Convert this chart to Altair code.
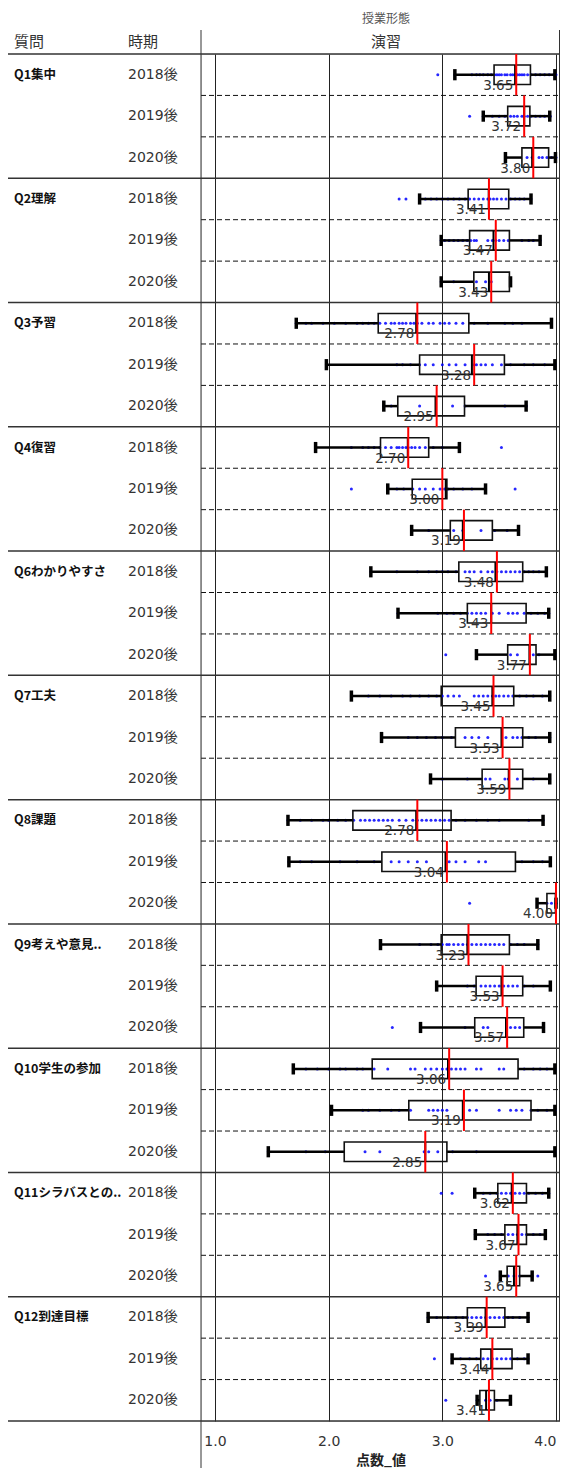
import altair as alt
import pandas as pd

# ---------------- data ----------------
questions = ["Q1集中", "Q2理解", "Q3予習", "Q4復習", "Q6わかりやすさ", "Q7工夫",
             "Q8課題", "Q9考えや意見..", "Q10学生の参加", "Q11シラバスとの..", "Q12到達目標"]
periods = ["2018後", "2019後", "2020後"]

whisker_low = [3.11, 3.36, 3.555, 2.80, 2.99, 2.99, 1.715, 1.98, 2.485, 1.885, 2.52, 2.73,
               2.371, 2.61, 3.30, 2.20, 2.465, 2.896, 1.642, 1.65, 3.833, 2.456, 2.95, 2.808,
               1.689, 2.025, 1.469, 3.285, 3.29, 3.51, 2.875, 3.086, 3.306]
box_q1 = [3.455, 3.575, 3.70, 3.227, 3.24, 3.277, 2.436, 2.80, 2.608, 2.456, 2.735, 3.07,
          3.145, 3.22, 3.575, 2.99, 3.115, 3.35, 2.213, 2.468, 3.92, 2.99, 3.297, 3.285,
          2.383, 2.705, 2.137, 3.488, 3.55, 3.57, 3.22, 3.338, 3.33]
box_median = [3.64, 3.72, 3.79, 3.408, 3.45, 3.41, 2.77, 3.26, 2.94, 2.696, 3.03, 3.18,
              3.467, 3.43, 3.766, 3.44, 3.52, 3.584, 2.77, 3.028, 4.0, 3.22, 3.52, 3.56,
              3.05, 3.18, 2.85, 3.61, 3.66, 3.63, 3.38, 3.43, 3.385]
box_q3 = [3.775, 3.77, 3.935, 3.584, 3.59, 3.59, 3.233, 3.546, 3.195, 2.88, 3.04, 3.44,
          3.707, 3.737, 3.824, 3.628, 3.707, 3.707, 3.077, 3.643, 3.995, 3.59, 3.707, 3.716,
          3.666, 3.78, 3.04, 3.74, 3.74, 3.68, 3.55, 3.613, 3.458]
whisker_high = [3.99, 3.945, 3.995, 3.78, 3.86, 3.60, 3.96, 3.99, 3.737, 3.15, 3.38, 3.67,
                3.915, 3.936, 3.99, 3.945, 3.945, 3.945, 3.886, 3.95, 4.0, 3.84, 3.95, 3.89,
                3.99, 3.99, 3.99, 3.936, 3.906, 3.79, 3.754, 3.754, 3.599]
mean_values = [3.65, 3.72, 3.80, 3.41, 3.47, 3.43, 2.78, 3.28, 2.95, 2.70, 3.00, 3.19,
               3.48, 3.43, 3.77, 3.45, 3.53, 3.59, 2.78, 3.04, 4.00, 3.23, 3.53, 3.57,
               3.06, 3.19, 2.85, 3.62, 3.67, 3.65, 3.39, 3.44, 3.41]

points = [
    [2.96, 3.11, 3.26, 3.30, 3.33, 3.36, 3.40, 3.43, 3.46, 3.48, 3.50, 3.52, 3.55, 3.57, 3.60,
     3.62, 3.64, 3.66, 3.68, 3.70, 3.72, 3.75, 3.78, 3.82, 3.86, 3.90, 3.94, 3.98, 4.0],
    [3.24, 3.36, 3.44, 3.50, 3.55, 3.60, 3.63, 3.66, 3.70, 3.72, 3.75, 3.78, 3.82, 3.86, 3.90, 3.95],
    [3.56, 3.745, 3.79, 3.85, 3.88, 3.92, 3.96, 4.0],
    [2.62, 2.68, 2.80, 2.85, 2.90, 2.95, 3.00, 3.05, 3.10, 3.15, 3.20, 3.24, 3.28, 3.32, 3.36,
     3.40, 3.42, 3.45, 3.48, 3.52, 3.56, 3.60, 3.64, 3.68, 3.72, 3.78],
    [2.99, 3.02, 3.06, 3.10, 3.14, 3.18, 3.22, 3.25, 3.28, 3.30, 3.40, 3.44, 3.47, 3.50, 3.54,
     3.58, 3.70, 3.76, 3.80, 3.86],
    [2.99, 3.10, 3.30, 3.38, 3.43, 3.60],
    [1.715, 1.80, 1.85, 1.95, 2.05, 2.15, 2.25, 2.30, 2.35, 2.40, 2.45, 2.50, 2.55, 2.58, 2.62,
     2.65, 2.68, 2.72, 2.75, 2.78, 2.82, 2.88, 2.92, 2.98, 3.02, 3.06, 3.12, 3.18, 3.28, 3.40,
     3.55, 3.62, 3.70, 3.96],
    [1.98, 2.60, 2.65, 2.72, 2.80, 2.85, 2.92, 3.00, 3.06, 3.12, 3.20, 3.28, 3.30, 3.34, 3.38,
     3.44, 3.52, 3.60, 3.72, 3.80, 3.90, 3.99],
    [2.485, 2.55, 2.80, 3.09, 3.20, 3.55, 3.74],
    [1.885, 2.20, 2.30, 2.35, 2.40, 2.45, 2.50, 2.55, 2.60, 2.62, 2.65, 2.68, 2.70, 2.73, 2.76,
     2.80, 2.85, 2.92, 3.00, 3.15, 3.52],
    [2.20, 2.52, 2.60, 2.66, 2.74, 2.80, 2.85, 2.92, 2.98, 3.02, 3.05, 3.10, 3.18, 3.26, 3.38, 3.64],
    [2.73, 2.88, 3.10, 3.18, 3.34, 3.46, 3.57, 3.67],
    [2.371, 2.60, 2.78, 2.88, 2.95, 3.00, 3.05, 3.12, 3.20, 3.24, 3.28, 3.34, 3.40, 3.44, 3.48,
     3.52, 3.56, 3.60, 3.64, 3.68, 3.72, 3.76, 3.80, 3.85, 3.915],
    [2.61, 2.96, 3.04, 3.10, 3.16, 3.22, 3.26, 3.30, 3.34, 3.38, 3.44, 3.50, 3.58, 3.62, 3.66,
     3.72, 3.78, 3.84, 3.90, 3.936],
    [3.03, 3.30, 3.60, 3.66, 3.80, 3.85, 3.99],
    [2.20, 2.35, 2.45, 2.55, 2.65, 2.72, 2.80, 2.88, 2.95, 3.00, 3.05, 3.10, 3.15, 3.28, 3.32,
     3.36, 3.40, 3.44, 3.47, 3.50, 3.54, 3.58, 3.62, 3.68, 3.74, 3.80, 3.88, 3.945],
    [2.465, 2.70, 2.78, 2.86, 2.94, 3.00, 3.08, 3.20, 3.26, 3.32, 3.40, 3.56, 3.62, 3.66, 3.70,
     3.76, 3.82, 3.945],
    [2.896, 3.00, 3.22, 3.38, 3.42, 3.55, 3.58, 3.66, 3.80, 3.945],
    [1.642, 1.75, 1.85, 1.95, 2.00, 2.08, 2.15, 2.22, 2.28, 2.32, 2.36, 2.40, 2.44, 2.48, 2.52,
     2.56, 2.62, 2.68, 2.74, 2.78, 2.82, 2.86, 2.90, 2.94, 2.98, 3.02, 3.06, 3.12, 3.20, 3.30,
     3.40, 3.50, 3.76, 3.886],
    [1.65, 1.75, 1.85, 2.10, 2.25, 2.40, 2.55, 2.62, 2.70, 2.78, 2.86, 3.06, 3.12, 3.20, 3.32,
     3.38, 3.70, 3.80, 3.88, 3.95],
    [3.24, 3.92, 3.96, 4.0],
    [2.456, 2.80, 2.90, 2.96, 3.00, 3.04, 3.06, 3.10, 3.14, 3.18, 3.22, 3.26, 3.30, 3.34, 3.38,
     3.42, 3.46, 3.50, 3.54, 3.60, 3.66, 3.72, 3.84],
    [2.95, 3.22, 3.28, 3.34, 3.38, 3.42, 3.46, 3.50, 3.54, 3.58, 3.62, 3.66, 3.72, 3.80, 3.95],
    [2.56, 2.808, 3.20, 3.36, 3.40, 3.60, 3.64, 3.68, 3.89],
    [1.689, 1.80, 1.90, 2.00, 2.10, 2.15, 2.25, 2.30, 2.40, 2.52, 2.72, 2.76, 2.85, 2.90, 2.95,
     3.00, 3.04, 3.08, 3.12, 3.16, 3.20, 3.30, 3.34, 3.50, 3.54, 3.72, 3.80, 3.86, 3.92, 3.99],
    [2.025, 2.30, 2.35, 2.45, 2.55, 2.62, 2.72, 2.88, 2.92, 2.96, 3.00, 3.04, 3.24, 3.30, 3.50,
     3.60, 3.65, 3.70, 3.78, 3.84, 3.92, 3.99],
    [1.469, 1.80, 1.97, 2.32, 2.45, 2.84, 2.88, 2.96, 3.09, 3.30, 3.99],
    [2.99, 3.086, 3.285, 3.36, 3.42, 3.48, 3.52, 3.56, 3.60, 3.64, 3.68, 3.72, 3.76, 3.82, 3.88, 3.936],
    [3.29, 3.40, 3.46, 3.52, 3.58, 3.62, 3.66, 3.70, 3.74, 3.80, 3.86, 3.906],
    [3.38, 3.51, 3.58, 3.63, 3.68, 3.79, 3.84],
    [2.875, 2.95, 3.05, 3.12, 3.18, 3.22, 3.26, 3.30, 3.34, 3.38, 3.42, 3.46, 3.50, 3.54, 3.58,
     3.62, 3.68, 3.754],
    [2.93, 3.086, 3.16, 3.24, 3.30, 3.36, 3.40, 3.44, 3.48, 3.52, 3.56, 3.60, 3.66, 3.72, 3.754],
    [3.03, 3.306, 3.38, 3.42, 3.48, 3.599],
]

axis_ticks = [1, 2, 3, 4]

# ---------------- tables ----------------
rows = []
for qi, q in enumerate(questions):
    for pi, p in enumerate(periods):
        r = qi * 3 + pi
        yc = r + 0.5
        rows.append(dict(
            r=r, yc=yc, q=q if pi == 0 else "", p=p,
            btop=yc - 0.235, bbot=yc + 0.235, ctop=yc - 0.135, cbot=yc + 0.135,
            rtop=r, rbot=r + 1,
            lo=whisker_low[r], q1=box_q1[r], med=box_median[r], q3=box_q3[r],
            hi=whisker_high[r], mean=mean_values[r], label=f"{mean_values[r]:.2f}",
        ))
box_df = pd.DataFrame(rows)

pts_df = pd.DataFrame([dict(v=v, yc=r + 0.5) for r, lst in enumerate(points) for v in lst])

sep_df = pd.DataFrame([dict(b=b, solid=(b % 3 == 0)) for b in range(0, 34)])
dashed_df = sep_df[~sep_df["solid"]]
solid_df = sep_df[sep_df["solid"]]

# layout: whole svg must stay within 552 px so the page does not overflow
PAD_L = 193           # plot starts at page x 201
W, H = 359, 1367      # plot ends at page x 560
FONT = "DejaVu Sans, Noto Sans CJK JP"
JFONT = "Noto Sans CJK JP"

xscale = alt.Scale(domain=[0.877, 4.035], nice=False, zero=False)
yscale = alt.Scale(domain=[0, 33], reverse=True, nice=False, zero=False)
xaxis = alt.Axis(values=axis_ticks, format=".1f", grid=True, gridColor="#222222",
                 gridWidth=1, gridOpacity=1, ticks=False, domain=False,
                 labelFontSize=14, labelColor="#333333", labelPadding=13,
                 labelFont=FONT, labelFlush=False,
                 labelAlign={"condition": {"test": "datum.value >= 4", "value": "right"},
                             "value": "center"},
                 title="点数_値", titleFontSize=14, titleFontWeight="bold",
                 titleColor="#222222", titleFont=JFONT,
                 titleBaseline="alphabetic", titleY=43)


def X(f):
    return alt.X(f, type="quantitative", scale=xscale, axis=xaxis)


def Y(f):
    return alt.Y(f, type="quantitative", scale=yscale, axis=None)


base = alt.Chart(box_df)

# separators
dashed = alt.Chart(dashed_df).mark_rule(color="#111111", strokeWidth=1, strokeDash=[5, 3]).encode(
    y=Y("b"), x=alt.value(0), x2=alt.value(W))
solid = alt.Chart(solid_df).mark_rule(color="#333333", strokeWidth=1.5).encode(
    y=Y("b"), x=alt.value(-PAD_L), x2=alt.value(W))

one = pd.DataFrame({"k": [0]})
left_border = alt.Chart(one).mark_rule(color="#333333", strokeWidth=1).encode(
    x=alt.value(0), y=alt.value(-24), y2=alt.value(H + 60))
right_border = alt.Chart(one).mark_rule(color="#333333", strokeWidth=1).encode(
    x=alt.value(W - 0.5), y=alt.value(-24), y2=alt.value(H))

pts = alt.Chart(pts_df).mark_circle(size=9, color="#0000ff", opacity=0.85).encode(
    x=X("v"), y=Y("yc"))

wl = base.mark_rule(color="#000000", strokeWidth=2.5).encode(x=X("lo"), x2="q1", y=Y("yc"))
wh = base.mark_rule(color="#000000", strokeWidth=2.5).encode(x=X("q3"), x2="hi", y=Y("yc"))
cap_l = base.mark_rule(color="#000000", strokeWidth=3.5).encode(x=X("lo"), y=Y("ctop"), y2="cbot")
cap_h = base.mark_rule(color="#000000", strokeWidth=3.5).encode(x=X("hi"), y=Y("ctop"), y2="cbot")
box = base.mark_rect(fill=None, fillOpacity=0, stroke="#111111", strokeWidth=1.6).encode(
    x=X("q1"), x2="q3", y=Y("btop"), y2="bbot")
med = base.mark_rule(color="#000000", strokeWidth=2).encode(x=X("med"), y=Y("btop"), y2="bbot")
mean = base.mark_rule(color="#ff0000", strokeWidth=2).encode(x=X("mean"), y=Y("rtop"), y2="rbot")
mean_lbl = base.mark_text(align="right", baseline="middle", dx=-3, dy=11, fontSize=13.5,
                          font=FONT, color="#333333").encode(x=X("mean"), y=Y("yc"), text="label")

LX_Q = 14 - 8 - PAD_L
LX_P = 128 - 8 - PAD_L
q_lbl = base.mark_text(align="left", baseline="middle", fontSize=12.5, fontWeight="bold",
                       font=JFONT, color="#111111").encode(x=alt.value(LX_Q), y=Y("yc"), text="q")
p_lbl = base.mark_text(align="left", baseline="middle", fontSize=14,
                       font=FONT, color="#333333").encode(x=alt.value(LX_P), y=Y("yc"), text="p")

CX = 386 - 8 - PAD_L
hdr_top = alt.Chart(one).mark_text(text="授業形態", fontSize=12, font=JFONT,
                                   color="#555555", align="center", baseline="middle").encode(
    x=alt.value(CX), y=alt.value(-35))
hdr_mid = alt.Chart(one).mark_text(text="演習", fontSize=15, font=JFONT,
                                   color="#333333", align="center", baseline="middle").encode(
    x=alt.value(CX), y=alt.value(-12))
hdr_q = alt.Chart(one).mark_text(text="質問", fontSize=15, font=JFONT,
                                 color="#333333", align="left", baseline="middle").encode(
    x=alt.value(LX_Q), y=alt.value(-12))
hdr_p = alt.Chart(one).mark_text(text="時期", fontSize=15, font=JFONT,
                                 color="#333333", align="left", baseline="middle").encode(
    x=alt.value(LX_P), y=alt.value(-12))

chart = alt.layer(
    dashed, solid, left_border, right_border, pts, wl, wh, cap_l, cap_h, box, med, mean,
    mean_lbl, q_lbl, p_lbl, hdr_top, hdr_mid, hdr_q, hdr_p
).properties(
    width=W, height=H,
    autosize=alt.AutoSizeParams(type="none"),
    padding={"left": PAD_L, "top": 46, "right": 0, "bottom": 47},
).configure_view(stroke=None).configure(background="white")

chart.save("out.html", embed_options={"renderer": "svg", "actions": False})
